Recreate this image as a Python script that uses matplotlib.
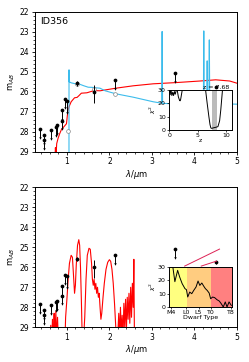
import numpy as np
import matplotlib
matplotlib.use("Agg")
import matplotlib.pyplot as plt
from matplotlib.ticker import MultipleLocator

plt.rcParams['font.family'] = ['DejaVu Sans']

# photometry: wavelength (um), AB mag, lower/upper error, upper-limit flag
phot_wave = [0.37, 0.47, 0.47, 0.62, 0.74, 0.77, 0.88, 0.88, 0.96, 1.01, 1.24, 1.64, 2.14, 3.55, 4.51]
phot_mag = [27.86, 28.16, 28.41, 27.91, 27.76, 27.68, 26.92, 27.44, 26.37, 26.44, 25.57, 25.99, 25.40, 25.07, 25.76]
phot_err_up = [0, 0, 0, 0, 0, 0, 0, 0, 0, 0, 0.10, 0.33, 0, 0, 0.06]
phot_err_dn = [0, 0, 0, 0, 0, 0, 0, 0, 0, 0, 0.12, 0.55, 0, 0, 0.06]
phot_limit = [1, 1, 1, 1, 1, 1, 1, 1, 1, 1, 0, 0, 1, 1, 0]
limit_len = [0.45, 0.45, 0.45, 0.45, 0.45, 0.45, 0.5, 0.4, 0.45, 0.6, 0, 0, 0.45, 0.45, 0]

# model photometry of the high-z fit (open circles)
model_wave = [1.02, 1.24, 1.64, 2.14, 3.55, 4.51]
model_mag = [27.96, 25.62, 25.85, 26.12, 26.55, 26.70]

# low-z galaxy solution (red, top)
lowz_wave = [0.72, 0.73, 0.745, 0.76, 0.79, 0.83, 0.87, 0.93, 0.99, 1.01, 1.03, 1.06, 1.10, 1.18,
             1.24, 1.28, 1.34, 1.47, 1.64, 1.78, 2.15, 2.56, 3.03, 3.56, 4.13, 4.50, 4.83, 5.0]
lowz_mag = [29.3, 28.8, 29.2, 28.6, 28.35, 28.1, 27.9, 27.75, 27.6, 27.2, 26.9, 26.7, 26.5, 26.3,
            26.28, 26.2, 26.07, 26.05, 25.94, 25.95, 25.82, 25.70, 25.60, 25.54, 25.46, 25.40, 25.46, 25.57]

# high-z galaxy solution (cyan, top)
highz_wave = [1.049, 1.05, 1.052, 1.055, 1.10, 1.20, 1.30, 1.40, 1.50, 1.60, 1.78, 1.90, 2.15, 2.56, 3.03,
              3.23, 3.24, 3.25, 3.50, 4.00, 4.21, 4.22, 4.23, 4.29, 4.30, 4.31, 4.34, 4.35, 4.36, 4.60, 5.0]
highz_mag = [29.5, 24.9, 25.5, 25.5, 25.55, 25.6, 25.62, 25.7, 25.77, 25.78, 25.82, 25.95, 26.10, 26.27, 26.50,
             26.57, 22.98, 26.58, 26.60, 26.70, 26.75, 22.95, 26.75, 26.70, 24.45, 26.70, 26.70, 23.40, 26.60, 26.60, 26.62]

# brown dwarf template (red, bottom)
bd_wave = [0.60, 0.62, 0.64, 0.66, 0.67, 0.69, 0.70, 0.72, 0.74, 0.76, 0.78, 0.80, 0.83, 0.95, 0.97, 1.00,
           1.03, 1.06, 1.10, 1.13, 1.15, 1.18, 1.20, 1.22, 1.25, 1.28, 1.30, 1.32, 1.34, 1.36, 1.38, 1.42,
           1.45, 1.48, 1.52, 1.55, 1.58, 1.60, 1.62, 1.64, 1.66, 1.68, 1.70, 1.72, 1.74, 1.76, 1.78, 1.80,
           1.82, 1.85, 1.88, 1.92, 1.96, 2.00, 2.03, 2.06, 2.09, 2.12, 2.15, 2.17, 2.20, 2.22, 2.24, 2.26,
           2.28, 2.30, 2.32, 2.34, 2.36, 2.38, 2.40, 2.42, 2.44, 2.46, 2.48, 2.50, 2.52, 2.54, 2.56, 2.575, 2.59]
bd_mag = [30.0, 28.9, 30.0, 28.6, 30.0, 28.8, 28.3, 29.5, 28.2, 29.6, 28.5, 29.8, 30.0, 30.0, 28.5, 27.6,
          26.6, 25.8, 25.4, 25.5, 26.2, 27.3, 26.9, 25.9, 24.9, 24.62, 24.9, 26.0, 27.6, 29.5, 30.0, 28.5,
          26.6, 25.4, 25.05, 25.1, 25.8, 26.6, 26.9, 26.6, 27.1, 26.8, 27.3, 27.0, 27.5, 27.3, 28.0, 28.6,
          28.3, 27.5, 26.8, 26.1, 25.75, 25.62, 25.7, 26.1, 26.8, 27.8, 29.0, 30.0, 29.2, 28.3, 29.5, 28.0,
          29.3, 28.4, 29.6, 27.8, 29.0, 27.6, 29.2, 27.5, 28.6, 27.3, 28.8, 27.0, 28.5, 26.8, 28.0, 25.6, 30.0]

# chi^2 vs redshift (top inset)
z_grid = [0.0, 0.1, 0.2, 0.3, 0.45, 0.6, 0.75, 0.9, 1.05, 1.2, 1.4, 1.6, 1.8, 1.9, 2.0, 2.2, 2.4, 3.0,
          4.0, 5.0, 6.0, 6.42, 6.7, 7.0, 7.2, 7.35, 7.5, 7.8, 8.2, 8.6, 8.9, 9.1, 9.4, 9.7]
z_chi2 = [31, 26.5, 29, 30, 26, 28.5, 26, 29, 27, 29.5, 30, 25, 22.5, 22, 23, 28, 33, 50,
          70, 70, 50, 30, 20, 10, 4, 1.5, 1.2, 1.6, 2.0, 2.5, 7, 15, 30, 40]
z_peak = [7.47, 8.47]
z_best = 7.68

# chi^2 vs dwarf type (bottom inset); M4=4, L0=10, L5=15, T0=20, T8=28
bd_type = [4.0, 4.8, 5.6, 6.7, 7.5, 8.5, 9.1, 9.6, 10.2, 10.7, 11.5, 12.3, 13.1, 14.0, 14.8, 15.5,
           16.3, 17.1, 17.7, 18.4, 19.2, 19.8, 20.6, 21.4, 22.3, 23.2, 24.0, 24.8, 25.6, 26.3, 27.1, 28.0]
bd_chi2 = [31, 30, 19, 27.5, 22.5, 17.5, 15.5, 13.8, 13, 7.5, 11.2, 10, 12.5, 15, 19.5, 16.2,
           18, 15.5, 13.8, 12.5, 10.5, 6.2, 7.5, 7, 5.5, 4.5, 2.5, 0, 3.8, 0, 3.8, 1.2]
type_ticks = [4, 10, 15, 20, 28]
type_labels = ['M4', 'L0', 'L5', 'T0', 'T8']

# red pointer lines in the bottom panel
ptr1_wave = [3.77, 4.59]
ptr1_mag = [25.94, 25.09]
ptr2_wave = [4.16, 4.52]
ptr2_mag = [25.94, 25.69]

cyan = '#3cbcec'
red = '#ff0000'
fs = 5.5


def draw_phot(ax, with_model):
    for x, y, eu, ed, lim, ll in zip(phot_wave, phot_mag, phot_err_up, phot_err_dn, phot_limit, limit_len):
        if lim:
            ax.vlines(x, y, y + ll, color='k', lw=0.7, zorder=5)
            ax.plot(x, y + ll, marker='v', ms=1.8, mew=0, color='k', zorder=5)
            ax.plot(x, y, 'o', ms=2.7, mew=0, color='k', zorder=6)
        else:
            ax.errorbar(x, y, yerr=[[eu], [ed]], fmt='o', ms=2.7, mew=0, color='k', ecolor='k',
                        elinewidth=0.7, capsize=0, zorder=6)
    if with_model:
        ax.plot(model_wave, model_mag, 'o', ms=2.7, mfc='white', mec='#888888', mew=0.5, zorder=4)


def style_main(ax):
    ax.set_xlim(0.25, 5)
    ax.set_ylim(29, 22)
    ax.xaxis.set_major_locator(MultipleLocator(1))
    ax.xaxis.set_minor_locator(MultipleLocator(0.2))
    ax.yaxis.set_major_locator(MultipleLocator(1))
    ax.yaxis.set_minor_locator(MultipleLocator(0.2))
    ax.tick_params(labelsize=fs, length=2.5, width=0.6, pad=1.5)
    ax.tick_params(which='minor', length=1.5, width=0.5)
    ax.set_xlabel(r'$\lambda$/$\mu$m', fontsize=fs + 0.5, labelpad=1)
    ax.set_ylabel(r'm$_{AB}$', fontsize=fs + 0.5, labelpad=2)
    for s in ax.spines.values():
        s.set_linewidth(0.7)


def style_inset(ax):
    ax.tick_params(labelsize=4.5, length=1.5, width=0.5, pad=1)
    for s in ax.spines.values():
        s.set_linewidth(0.7)


fig = plt.figure(figsize=(2.49, 3.62), dpi=100)

# top panel
ax1 = fig.add_axes([0.1406, 0.581, 0.811, 0.386])
ax1.plot(lowz_wave, lowz_mag, color=red, lw=0.8, zorder=2)
ax1.plot(highz_wave, highz_mag, color=cyan, lw=0.8, zorder=3)
draw_phot(ax1, True)
style_main(ax1)
ax1.text(0.025, 0.965, 'ID356', transform=ax1.transAxes, fontsize=6.8, va='top', ha='left')

ins1 = fig.add_axes([0.680, 0.641, 0.252, 0.1097])
ins1.axvspan(z_peak[0], z_peak[1], color='#bbbbbb', lw=0)
ins1.plot(z_grid, z_chi2, color='k', lw=0.7)
ins1.set_xlim(0, 11.1)
ins1.set_ylim(0, 30)
ins1.set_xticks([0, 5, 10])
ins1.set_yticks([0, 10, 20, 30])
ins1.set_xlabel('z', fontsize=4.5, labelpad=0)
ins1.set_ylabel(r'$\chi^2$', fontsize=4.5, labelpad=0)
ins1.text(5.9, 30.3, 'z = %.2f' % z_best, fontsize=4.5, va='bottom', ha='left', clip_on=False)
style_inset(ins1)

# bottom panel
ax2 = fig.add_axes([0.1406, 0.0959, 0.811, 0.3867])
ax2.plot(bd_wave, bd_mag, color=red, lw=0.8, zorder=2)
ax2.plot(ptr1_wave, ptr1_mag, color='#dd2255', lw=0.7, zorder=7)
ax2.plot(ptr2_wave, ptr2_mag, color='#dd2255', lw=0.7, zorder=7)
draw_phot(ax2, False)
style_main(ax2)

ins2 = fig.add_axes([0.679, 0.1519, 0.252, 0.1105])
ins2.axvspan(3.3, 10.3, color='#ffff80', lw=0)
ins2.axvspan(10.3, 20, color='#ffcc80', lw=0)
ins2.axvspan(20, 28.2, color='#ff8080', lw=0)
ins2.plot(bd_type, bd_chi2, color='k', lw=0.7)
ins2.set_xlim(3.3, 28.2)
ins2.set_ylim(0, 30)
ins2.set_xticks(type_ticks)
ins2.set_xticklabels(type_labels)
ins2.set_yticks([0, 10, 20, 30])
ins2.set_xlabel('Dwarf Type', fontsize=4.5, labelpad=0)
ins2.set_ylabel(r'$\chi^2$', fontsize=4.5, labelpad=0)
style_inset(ins2)

fig.savefig('out.png', dpi=100)
